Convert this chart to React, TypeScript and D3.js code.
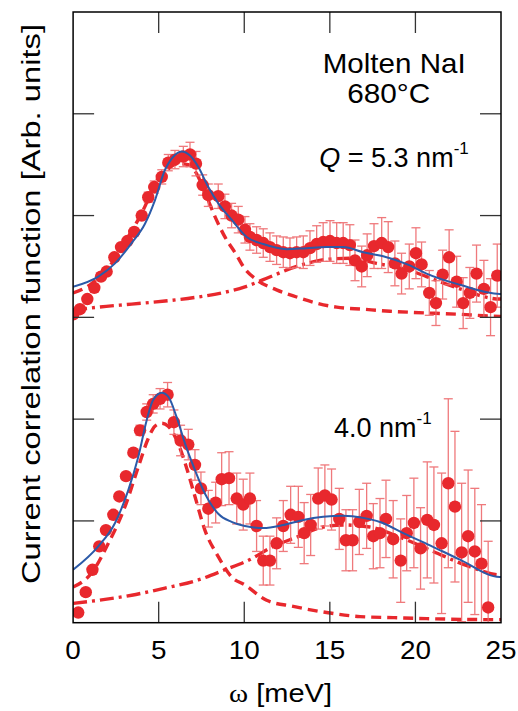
import React from 'react'
import * as d3 from 'd3'

const WIDTH = 518
const HEIGHT = 711
const PLOT = { left: 73.1, right: 501, top: 12, bottom: 622.7 }

const RED = '#e8282d'
const RED_ERR = '#ee6b6e'
const BLUE = '#2c5aa8'

// x ticks (meV) and y ticks (arb. units, upper panel sits on an offset of 3)
const xTicks = [0, 5, 10, 15, 20, 25]
const yTicks = [1, 2, 3, 4, 5]

// Q = 5.3 nm^-1 (upper panel)
const upperOmega = [0.01, 0.40, 0.83, 1.24, 1.63, 1.96, 2.41, 2.80, 3.17, 3.57, 4.01, 4.39, 4.74, 5.18, 5.56, 5.95, 6.44, 6.83, 7.18, 7.57, 7.90, 8.48, 8.87, 9.26, 9.65, 10.04, 10.33, 10.72, 11.11, 11.50, 11.89, 12.28, 12.67, 13.06, 13.45, 13.84, 14.23, 14.61, 15.01, 15.40, 15.78, 16.17, 16.47, 16.86, 17.18, 17.58, 18.03, 18.41, 18.80, 19.19, 19.64, 20.03, 20.36, 20.81, 21.20, 21.59, 21.97, 22.41, 22.79, 23.18, 23.57, 24.00, 24.39, 24.78]
const upperValue = [3.03, 3.08, 3.18, 3.29, 3.40, 3.45, 3.59, 3.69, 3.75, 3.84, 4.00, 4.18, 4.28, 4.38, 4.52, 4.55, 4.58, 4.60, 4.51, 4.30, 4.20, 4.19, 4.09, 4.00, 3.96, 3.86, 3.79, 3.76, 3.73, 3.69, 3.66, 3.64, 3.63, 3.64, 3.64, 3.68, 3.72, 3.74, 3.75, 3.73, 3.73, 3.71, 3.56, 3.50, 3.61, 3.70, 3.73, 3.69, 3.53, 3.43, 3.50, 3.63, 3.52, 3.24, 3.14, 3.42, 3.59, 3.35, 3.14, 3.24, 3.43, 3.28, 3.10, 3.41]
const upperError = [0.02, 0.02, 0.02, 0.02, 0.02, 0.02, 0.03, 0.03, 0.03, 0.04, 0.04, 0.05, 0.06, 0.07, 0.08, 0.09, 0.10, 0.12, 0.12, 0.10, 0.11, 0.12, 0.12, 0.12, 0.13, 0.13, 0.13, 0.13, 0.14, 0.14, 0.14, 0.15, 0.15, 0.15, 0.16, 0.17, 0.18, 0.19, 0.20, 0.20, 0.20, 0.20, 0.20, 0.20, 0.21, 0.22, 0.25, 0.25, 0.22, 0.20, 0.22, 0.25, 0.22, 0.22, 0.22, 0.24, 0.27, 0.25, 0.25, 0.25, 0.28, 0.28, 0.28, 0.31]

// Q = 4.0 nm^-1 (lower panel)
const lowerOmega = [0.30, 0.74, 1.13, 1.53, 1.92, 2.35, 2.70, 3.09, 3.52, 3.91, 4.30, 4.68, 5.08, 5.52, 5.89, 6.28, 6.73, 7.12, 7.47, 7.90, 8.33, 8.68, 9.11, 9.56, 9.94, 10.33, 10.72, 11.11, 11.50, 11.89, 12.28, 12.71, 13.16, 13.50, 13.88, 14.32, 14.71, 15.10, 15.55, 15.94, 16.33, 16.72, 17.15, 17.54, 17.93, 18.28, 18.70, 19.14, 19.49, 19.91, 20.30, 20.69, 21.08, 21.53, 21.92, 22.31, 22.70, 23.08, 23.47, 23.86, 24.25]
const lowerValue = [0.10, 0.30, 0.52, 0.75, 0.91, 1.06, 1.24, 1.44, 1.67, 1.89, 2.07, 2.15, 2.20, 2.24, 1.97, 1.79, 1.75, 1.55, 1.32, 1.12, 1.18, 1.41, 1.42, 1.22, 1.16, 1.22, 0.95, 0.61, 0.61, 0.78, 0.95, 1.06, 1.04, 0.88, 0.96, 1.22, 1.25, 1.21, 1.02, 0.81, 0.81, 0.99, 1.05, 0.85, 0.88, 1.02, 0.82, 0.61, 0.88, 0.98, 0.73, 1.01, 0.96, 0.78, 1.37, 1.14, 0.69, 0.85, 0.70, 0.58, 0.15]
const lowerError = [0.02, 0.02, 0.02, 0.03, 0.03, 0.03, 0.03, 0.04, 0.04, 0.05, 0.08, 0.09, 0.10, 0.12, 0.12, 0.15, 0.15, 0.15, 0.16, 0.18, 0.20, 0.26, 0.26, 0.25, 0.25, 0.25, 0.25, 0.24, 0.24, 0.25, 0.25, 0.28, 0.30, 0.30, 0.30, 0.30, 0.30, 0.30, 0.30, 0.30, 0.30, 0.32, 0.32, 0.32, 0.34, 0.38, 0.38, 0.41, 0.37, 0.44, 0.40, 0.57, 0.57, 0.69, 0.83, 0.74, 0.68, 0.65, 0.62, 0.58, 0.65]

// fit curves: [omega, value]
const upperLow: [number, number][] = [[0, 3.24], [0.99, 3.32], [2.25, 3.53], [3.22, 3.79], [4.20, 4.09], [4.78, 4.32], [5.37, 4.43], [6.14, 4.51], [6.73, 4.50], [7.22, 4.41], [7.70, 4.23], [8.29, 3.99], [8.87, 3.79], [9.56, 3.61], [9.94, 3.50], [10.72, 3.37], [11.89, 3.27], [13.06, 3.20], [14.23, 3.14], [15.40, 3.10], [16.95, 3.08], [18.51, 3.06], [19.68, 3.05], [22.60, 3.03], [24.93, 3.01], [25, 3.01]]
const upperHigh: [number, number][] = [[0, 3.07], [1.47, 3.10], [3.42, 3.13], [5.37, 3.16], [7.31, 3.20], [8.68, 3.24], [10.04, 3.30], [11.11, 3.37], [13.06, 3.50], [14.81, 3.57], [16.17, 3.58], [17.73, 3.53], [19.87, 3.45], [20.65, 3.40], [22.60, 3.28], [24.93, 3.18], [25, 3.18]]
const upperFit: [number, number][] = [[0, 3.30], [1.47, 3.40], [2.45, 3.53], [3.42, 3.73], [4.20, 3.92], [4.78, 4.15], [5.37, 4.45], [5.76, 4.56], [6.34, 4.63], [6.83, 4.59], [7.31, 4.48], [7.90, 4.28], [8.48, 4.12], [9.26, 3.96], [10.14, 3.79], [11.11, 3.72], [12.48, 3.67], [13.64, 3.68], [14.81, 3.69], [15.78, 3.69], [16.95, 3.64], [18.12, 3.60], [19.68, 3.51], [20.65, 3.43], [22.60, 3.32], [24.93, 3.23], [25, 3.23]]

const lowerLow: [number, number][] = [[0, 0.35], [1.09, 0.49], [2.06, 0.78], [3.03, 1.14], [3.81, 1.53], [4.39, 1.81], [4.78, 1.93], [5.18, 1.96], [5.56, 1.93], [6.14, 1.76], [6.54, 1.57], [7.12, 1.24], [7.70, 0.91], [8.48, 0.65], [9.26, 0.45], [10.04, 0.37], [11.31, 0.22], [12.86, 0.16], [14.81, 0.10], [16.76, 0.06], [18.70, 0.05], [20.65, 0.04], [24.54, 0.03], [25, 0.03]]
const lowerHigh: [number, number][] = [[0, 0.19], [1.47, 0.22], [3.42, 0.27], [5.37, 0.34], [7.31, 0.42], [8.87, 0.52], [10.33, 0.62], [11.69, 0.75], [13.06, 0.84], [14.61, 0.94], [15.78, 0.96], [17.34, 0.94], [19.09, 0.84], [21.04, 0.70], [23.18, 0.55], [24.93, 0.47], [25, 0.47]]
const lowerFit: [number, number][] = [[0, 0.52], [1.47, 0.75], [2.45, 0.98], [3.22, 1.30], [3.81, 1.63], [4.30, 1.99], [4.68, 2.19], [5.18, 2.26], [5.56, 2.22], [6.05, 2.02], [6.54, 1.76], [7.12, 1.50], [7.70, 1.27], [8.48, 1.07], [9.26, 0.99], [10.04, 0.95], [11.11, 0.93], [12.28, 0.96], [13.45, 1.01], [14.61, 1.04], [15.78, 1.05], [16.95, 1.03], [17.93, 0.99], [19.29, 0.88], [20.85, 0.76], [22.60, 0.62], [24.93, 0.45], [25, 0.45]]

const FONT = '"Liberation Sans", Arial, Helvetica, sans-serif'

export default function App() {
  const x = d3.scaleLinear().domain([0, 25]).range([PLOT.left, PLOT.right])
  const y = d3.scaleLinear().domain([0, 6]).range([PLOT.bottom, PLOT.top])

  const line = d3
    .line<[number, number]>()
    .x((d) => x(d[0]))
    .y((d) => y(d[1]))
    .curve(d3.curveMonotoneX)

  const series = [
    { omega: upperOmega, value: upperValue, error: upperError },
    { omega: lowerOmega, value: lowerValue, error: lowerError },
  ]

  const tickLen = 21
  const cap = 4.5

  return (
    <svg width={WIDTH} height={HEIGHT} style={{ position: 'absolute', left: 0, top: 0 }} fontFamily={FONT}>
      <defs>
        <clipPath id="plot">
          <rect x={PLOT.left} y={PLOT.top} width={PLOT.right - PLOT.left} height={PLOT.bottom - PLOT.top} />
        </clipPath>
      </defs>
      <rect width={WIDTH} height={HEIGHT} fill="#fff" />

      <g clipPath="url(#plot)">
        {[upperLow, lowerLow].map((d, i) => (
          <path key={'low' + i} d={line(d) || ''} fill="none" stroke={RED} strokeWidth={3.4} strokeDasharray="10,6" />
        ))}
        {[upperHigh, lowerHigh].map((d, i) => (
          <path key={'high' + i} d={line(d) || ''} fill="none" stroke={RED} strokeWidth={3.4} strokeDasharray="14,5,3,5" />
        ))}
        {series.map((s, si) =>
          s.omega.map((w, i) => {
            const e = s.error[i]
            if (e < 0.05) return null
            const cx = x(w)
            const y0 = y(s.value[i] - e)
            const y1 = y(s.value[i] + e)
            return (
              <g key={'e' + si + '-' + i} stroke={RED_ERR} strokeWidth={1.3} opacity={0.9}>
                <line x1={cx} x2={cx} y1={y0} y2={y1} />
                <line x1={cx - cap} x2={cx + cap} y1={y0} y2={y0} />
                <line x1={cx - cap} x2={cx + cap} y1={y1} y2={y1} />
              </g>
            )
          })
        )}
        {series.map((s, si) =>
          s.omega.map((w, i) => (
            <circle key={'p' + si + '-' + i} cx={x(w)} cy={y(s.value[i])} r={6.2} fill={RED} />
          ))
        )}
        {[upperFit, lowerFit].map((d, i) => (
          <path key={'fit' + i} d={line(d) || ''} fill="none" stroke={BLUE} strokeWidth={2} />
        ))}
      </g>

      {/* ticks, inward on all four sides */}
      <g stroke="#333" strokeWidth={1.3}>
        {xTicks.slice(1, -1).map((t) => (
          <g key={'xt' + t}>
            <line x1={x(t)} x2={x(t)} y1={PLOT.bottom} y2={PLOT.bottom - tickLen} />
            <line x1={x(t)} x2={x(t)} y1={PLOT.top} y2={PLOT.top + tickLen} />
          </g>
        ))}
        {yTicks.map((t) => (
          <g key={'yt' + t}>
            <line x1={PLOT.left} x2={PLOT.left + tickLen} y1={y(t)} y2={y(t)} />
            <line x1={PLOT.right} x2={PLOT.right - tickLen} y1={y(t)} y2={y(t)} />
          </g>
        ))}
      </g>
      <rect x={PLOT.left} y={PLOT.top} width={PLOT.right - PLOT.left} height={PLOT.bottom - PLOT.top} fill="none" stroke="#000" strokeWidth={1.5} />

      {/* tick labels */}
      {xTicks.map((t) => {
        const s = String(t)
        return (
          <text key={'xl' + t} x={x(t)} y={658.5} fontSize={25.5} textAnchor="middle" textLength={15.5 * s.length} lengthAdjust="spacingAndGlyphs">
            {s}
          </text>
        )
      })}

      <text x={280.5} y={702} fontSize={26} textAnchor="middle" textLength={103} lengthAdjust="spacingAndGlyphs">
        <tspan fontFamily='"Liberation Serif", "Times New Roman", serif'>ω</tspan> [meV]
      </text>

      <text
        transform={`translate(40,304) rotate(-90)`}
        fontSize={26.5}
        textAnchor="middle"
        textLength={560}
        lengthAdjust="spacingAndGlyphs"
      >
        Current correlation function [Arb. units]
      </text>

      <text x={394.2} y={73.3} fontSize={28} textAnchor="middle" textLength={143} lengthAdjust="spacingAndGlyphs">
        Molten NaI
      </text>
      <text x={388.7} y={103.3} fontSize={28} textAnchor="middle" textLength={83} lengthAdjust="spacingAndGlyphs">
        680°C
      </text>
      <text x={319.3} y={166.7} fontSize={27}>
        <tspan fontStyle="italic">Q</tspan>
        <tspan> = 5.3 nm</tspan>
        <tspan fontSize={17} dy={-13}>-1</tspan>
      </text>
      <text x={334} y={436.7} fontSize={27}>
        <tspan>4.0 nm</tspan>
        <tspan fontSize={17} dy={-13}>-1</tspan>
      </text>
    </svg>
  )
}
